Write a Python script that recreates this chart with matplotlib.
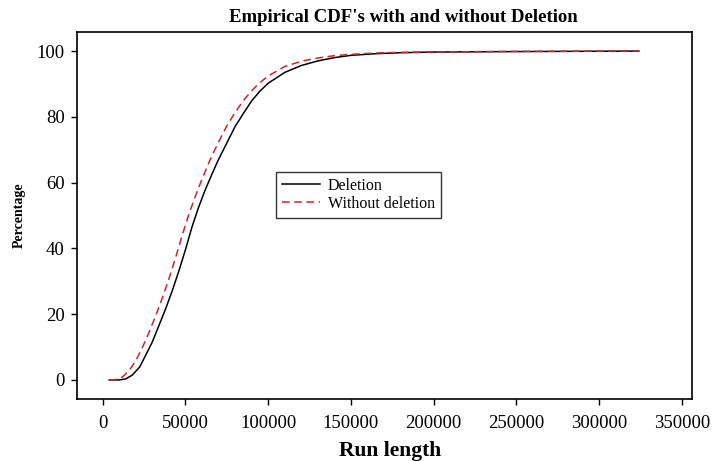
import matplotlib
matplotlib.use("Agg")
import matplotlib.pyplot as plt
from matplotlib.ticker import FormatStrFormatter

# Empirical CDF of run length, with deletion
deletion_x = [4000, 10000, 14000, 18000, 22500, 26000, 30000, 34000, 38000,
              42000, 46000, 50000, 54000, 58000, 62000, 66000, 70000, 75000,
              80000, 85000, 90000, 95000, 100000, 110000, 120000, 130000,
              140000, 150000, 165000, 180000, 200000, 250000, 324000]
deletion_y = [0, 0, 0.3, 1.5, 4.0, 7.5, 11.5, 16.5, 21.5,
              27.0, 33.0, 39.5, 46.5, 52.5, 57.8, 62.5, 67.0, 72.0,
              77.0, 81.0, 84.8, 87.8, 90.2, 93.5, 95.6, 97.0,
              98.0, 98.7, 99.2, 99.5, 99.7, 99.85, 100]

# Empirical CDF of run length, without deletion
nodel_x = [4000, 8000, 12000, 16000, 20000, 24000, 28000, 32000, 36000,
           40000, 44000, 48000, 52000, 56000, 60000, 65000, 70000, 75000,
           80000, 85000, 90000, 95000, 100000, 110000, 120000, 130000,
           140000, 150000, 165000, 180000, 200000, 250000, 324000]
nodel_y = [0, 0.1, 0.9, 2.8, 5.8, 9.8, 14.4, 19.4, 24.8,
           30.6, 37.0, 43.8, 50.2, 55.8, 61.0, 67.0, 72.3, 77.2,
           81.3, 84.9, 87.9, 90.4, 92.4, 95.3, 96.9, 97.9,
           98.6, 99.0, 99.4, 99.6, 99.75, 99.9, 100]

x_ticks = [0, 50000, 100000, 150000, 200000, 250000, 300000, 350000]
y_ticks = [0, 20, 40, 60, 80, 100]

plt.rcParams['font.family'] = ['Liberation Serif', 'DejaVu Serif']

fig = plt.figure(figsize=(7.16, 4.61), dpi=100)
ax = fig.add_axes([0.107, 0.1345, 0.8595, 0.7961])

ax.plot(deletion_x, deletion_y, color='black', lw=1.1, label='Deletion')
ax.plot(nodel_x, nodel_y, color='#d42028', lw=1.1, ls=(0, (5, 3)),
        label='Without deletion')

ax.set_xlim(-15700, 356100)
ax.set_ylim(-5.8, 105.8)
ax.set_xticks(x_ticks)
ax.set_yticks(y_ticks)
ax.xaxis.set_major_formatter(FormatStrFormatter('%d'))
ax.tick_params(direction='out', length=4.5, width=1, labelsize=13.5,
               top=False, right=False)
ax.tick_params(axis='x', pad=7)
ax.tick_params(axis='y', pad=4)
for s in ax.spines.values():
    s.set_linewidth(1.2)

fig.text(0.563, 0.961, "Empirical CDF's with and without Deletion",
         fontsize=13.5, fontweight='bold', ha='center', va='center')
ax.set_xlabel('Run length', fontsize=15.5, fontweight='bold', labelpad=6)
ax.xaxis.set_label_coords(0.509, -0.115, transform=ax.transAxes)
ax.xaxis.label.set_va('top')
ax.set_ylabel('Percentage', fontsize=10, fontweight='bold', labelpad=8)

leg = ax.legend(loc='upper left', bbox_to_anchor=(0.324, 0.6185), fontsize=11.5,
                frameon=True, fancybox=False, edgecolor='black',
                handlelength=2.4, handletextpad=0.5, borderpad=0.35,
                labelspacing=0.15, borderaxespad=0)
leg.get_frame().set_linewidth(1.0)

fig.savefig('out.png', dpi=100)
